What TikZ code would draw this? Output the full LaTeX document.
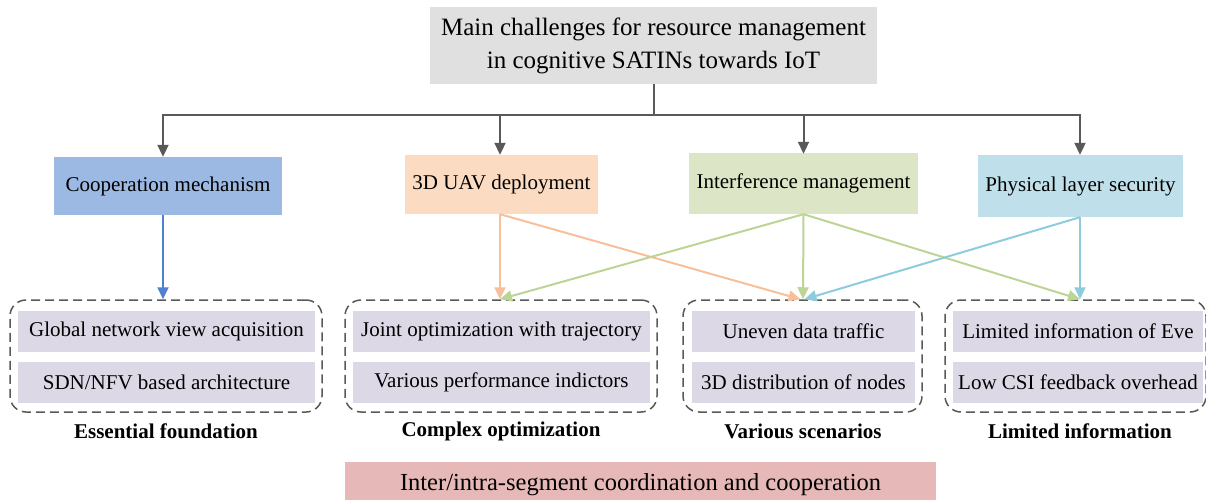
\documentclass[tikz,border=0pt]{standalone}
\usepackage{fontspec}
\setmainfont{Liberation Serif}
\usetikzlibrary{arrows.meta}
\definecolor{topfill}{HTML}{E0E0E0}
\definecolor{coopfill}{HTML}{9BB9E3}
\definecolor{uavfill}{HTML}{FBDBC1}
\definecolor{intfill}{HTML}{DCE5C6}
\definecolor{phyfill}{HTML}{BFE0EA}
\definecolor{itemfill}{HTML}{DDD8E6}
\definecolor{botfill}{HTML}{E6B9B8}
\definecolor{darkline}{HTML}{595959}
\definecolor{coopline}{HTML}{4F81D0}
\definecolor{uavline}{HTML}{F8C09A}
\definecolor{intline}{HTML}{BDD497}
\definecolor{phyline}{HTML}{8CCCDD}
\tikzset{
  boxbase/.style={inner sep=0pt, align=center, font=\fontsize{21}{25}\selectfont},
  topbox/.style={boxbase, fill=topfill, font=\fontsize{25}{33}\selectfont},
  catbox/.style={boxbase},
  itembox/.style={boxbase, fill=itemfill, minimum height=41pt},
  groupbox/.style={draw=darkline, dashed, dash pattern=on 9pt off 5pt, line width=1.5pt, rounded corners=16pt, minimum height=112pt, inner sep=0pt},
  grouplabel/.style={font=\fontsize{21}{25}\selectfont\bfseries},
  botbox/.style={boxbase, fill=botfill, font=\fontsize{24.5}{28}\selectfont},
  conn/.style={line width=2pt, -{Triangle[length=12pt,width=11pt]}},
}
\begin{document}
\begin{tikzpicture}[x=1pt,y=-1pt]
\useasboundingbox (0,0) rectangle (1206,500);
% top
\node[topbox, minimum width=447pt, minimum height=77pt] (top) at (653.5,45.5)
  {Main challenges for resource management\\in cognitive SATINs towards IoT};
% categories
\node[catbox, fill=coopfill, minimum width=228pt, minimum height=58pt] (coop) at (168,186) {Cooperation mechanism};
\node[catbox, fill=uavfill, minimum width=193pt, minimum height=59pt] (uav) at (501.5,184.5) {3D UAV deployment};
\node[catbox, fill=intfill, minimum width=229pt, minimum height=61pt] (intf) at (803.5,183.5) {Interference management};
\node[catbox, fill=phyfill, minimum width=205pt, minimum height=62pt] (phy) at (1080.5,186) {Physical layer security};
% groups
\node[groupbox, minimum width=312pt] (g1) at (166,356) {};
\node[groupbox, minimum width=312pt] (g2) at (501,356) {};
\node[groupbox, minimum width=239pt] (g3) at (802.5,356) {};
\node[groupbox, minimum width=261pt] (g4) at (1075.5,356) {};
% items
\node[itembox, minimum width=297pt] (g1a) at (166.5,331) {Global network view acquisition};
\node[itembox, minimum width=297pt] (g1b) at (166.5,382.5) {SDN/NFV based architecture};
\node[itembox, minimum width=297pt] (g2a) at (501.5,331) {Joint optimization with trajectory};
\node[itembox, minimum width=297pt] (g2b) at (501.5,382.5) {Various performance indictors};
\node[itembox, minimum width=223pt] (g3a) at (803.5,331) {Uneven data traffic};
\node[itembox, minimum width=223pt] (g3b) at (803.5,382.5) {3D distribution of nodes};
\node[itembox, minimum width=250pt] (g4a) at (1078,331) {Limited information of Eve};
\node[itembox, minimum width=250pt] (g4b) at (1078,382.5) {Low CSI feedback overhead};
% labels
\node[grouplabel] (l1) at (166,431) {Essential foundation};
\node[grouplabel] (l2) at (501,431) {Complex optimization};
\node[grouplabel] (l3) at (803,431) {Various scenarios};
\node[grouplabel] (l4) at (1080,431) {Limited information};
% bottom
\node[botbox, minimum width=591pt, minimum height=46pt] (bot) at (640.5,485) {Inter/intra-segment coordination and cooperation};
% top connectors
\coordinate (bus) at (653.5,115);
\draw[line width=2pt, darkline] (top.south) -- (bus);
\draw[conn, darkline] (bus) -| ([xshift=-5pt]coop.north);
\draw[conn, darkline] (bus) -| ([xshift=-1.5pt]uav.north);
\draw[conn, darkline] (bus) -| ([yshift=-1pt]intf.north);
\draw[conn, darkline] (bus) -| ([xshift=-0.5pt]phy.north);
% lower connectors
\draw[conn, coopline] ([xshift=-5pt]coop.south) -- ([xshift=-3pt]g1.north);
\draw[conn, uavline] ([xshift=-1.5pt]uav.south) -- ([xshift=-1pt]g2.north);
\draw[conn, uavline] ([xshift=-1.5pt]uav.south) -- ([xshift=-2pt]g3.north);
\draw[conn, intline] (intf.south) -- ([xshift=-1pt]g2.north);
\draw[conn, intline] (intf.south) -- ([xshift=0.5pt]g3.north);
\draw[conn, intline] (intf.south) -- ([xshift=4.5pt]g4.north);
\draw[conn, phyline] ([xshift=-0.5pt]phy.south) -- ([xshift=2pt]g3.north);
\draw[conn, phyline] ([xshift=-0.5pt]phy.south) -- ([xshift=4.5pt]g4.north);
\end{tikzpicture}
\end{document}
